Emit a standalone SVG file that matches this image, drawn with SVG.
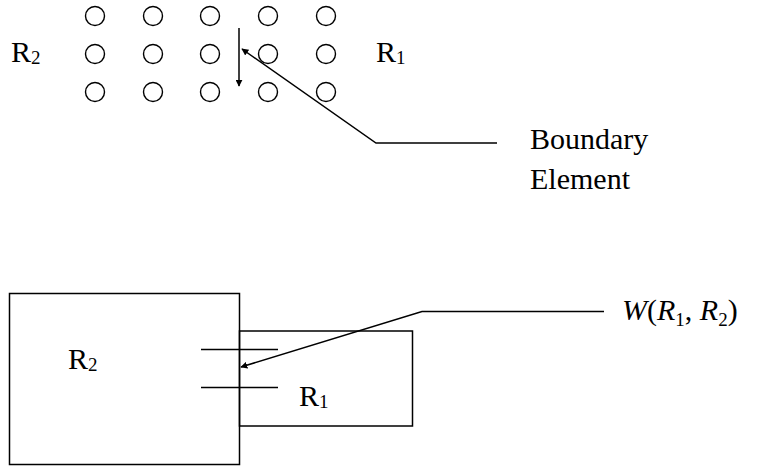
<svg xmlns="http://www.w3.org/2000/svg" width="758" height="468" viewBox="0 0 758 468">
<style>
.t{font-family:"Liberation Serif","Times New Roman",serif;font-size:30px;fill:#000}
.s{font-size:19px}
.c{fill:none;stroke:#000;stroke-width:1.4}
.l{fill:none;stroke:#000;stroke-width:1.5}
</style>
<defs>
<marker id="ah" viewBox="0 0 10 10" refX="9" refY="5" markerWidth="7" markerHeight="7" markerUnits="userSpaceOnUse" orient="auto">
<path d="M0,0 L10,5 L0,10 z" fill="#000"/>
</marker>
</defs>
<rect width="758" height="468" fill="#fff"/>
<g id="grid">
<circle class="c" cx="95" cy="16" r="9.5"/><circle class="c" cx="153" cy="16" r="9.5"/><circle class="c" cx="210" cy="16" r="9.5"/><circle class="c" cx="268" cy="16" r="9.5"/><circle class="c" cx="326" cy="16" r="9.5"/>
<circle class="c" cx="95" cy="54" r="9.5"/><circle class="c" cx="153" cy="54" r="9.5"/><circle class="c" cx="210" cy="54" r="9.5"/><circle class="c" cx="268" cy="54" r="9.5"/><circle class="c" cx="326" cy="54" r="9.5"/>
<circle class="c" cx="95" cy="92" r="9.5"/><circle class="c" cx="153" cy="92" r="9.5"/><circle class="c" cx="210" cy="92" r="9.5"/><circle class="c" cx="268" cy="92" r="9.5"/><circle class="c" cx="326" cy="92" r="9.5"/>
</g>
<g id="top-labels">
<text class="t" x="11" y="62">R<tspan class="s" dy="2">2</tspan></text>
<text class="t" x="376" y="62">R<tspan class="s" dy="2">1</tspan></text>
<text class="t" x="530" y="149">Boundary</text>
<text class="t" x="530" y="189">Element</text>
</g>
<g id="box-R2">
<rect class="l" x="9.5" y="293.5" width="230" height="171"/>
<text class="t" x="68" y="369">R<tspan class="s" dy="2">2</tspan></text>
</g>
<g id="box-R1">
<rect class="l" x="239.5" y="331" width="173" height="95"/>
<text class="t" x="299" y="406">R<tspan class="s" dy="2">1</tspan></text>
</g>
<g id="window">
<line class="l" x1="201" y1="349.5" x2="278" y2="349.5"/>
<line class="l" x1="201" y1="387.5" x2="278" y2="387.5"/>
</g>
<g id="w-label">
<text class="t" x="622" y="320" font-style="italic">W<tspan font-style="normal">(</tspan>R<tspan class="s" dy="6" font-style="normal">1</tspan><tspan dy="-6" font-style="normal">, </tspan>R<tspan class="s" dy="6" font-style="normal">2</tspan><tspan dy="-6" font-style="normal">)</tspan></text>
</g>
<g id="connectors">
<line class="l" x1="239" y1="28" x2="239" y2="86" marker-end="url(#ah)"/>
<polyline class="l" points="497,143 376,143 242,49" marker-end="url(#ah)"/>
<polyline class="l" points="604,311.5 422,311.5 241,367" marker-end="url(#ah)"/>
</g>
</svg>
